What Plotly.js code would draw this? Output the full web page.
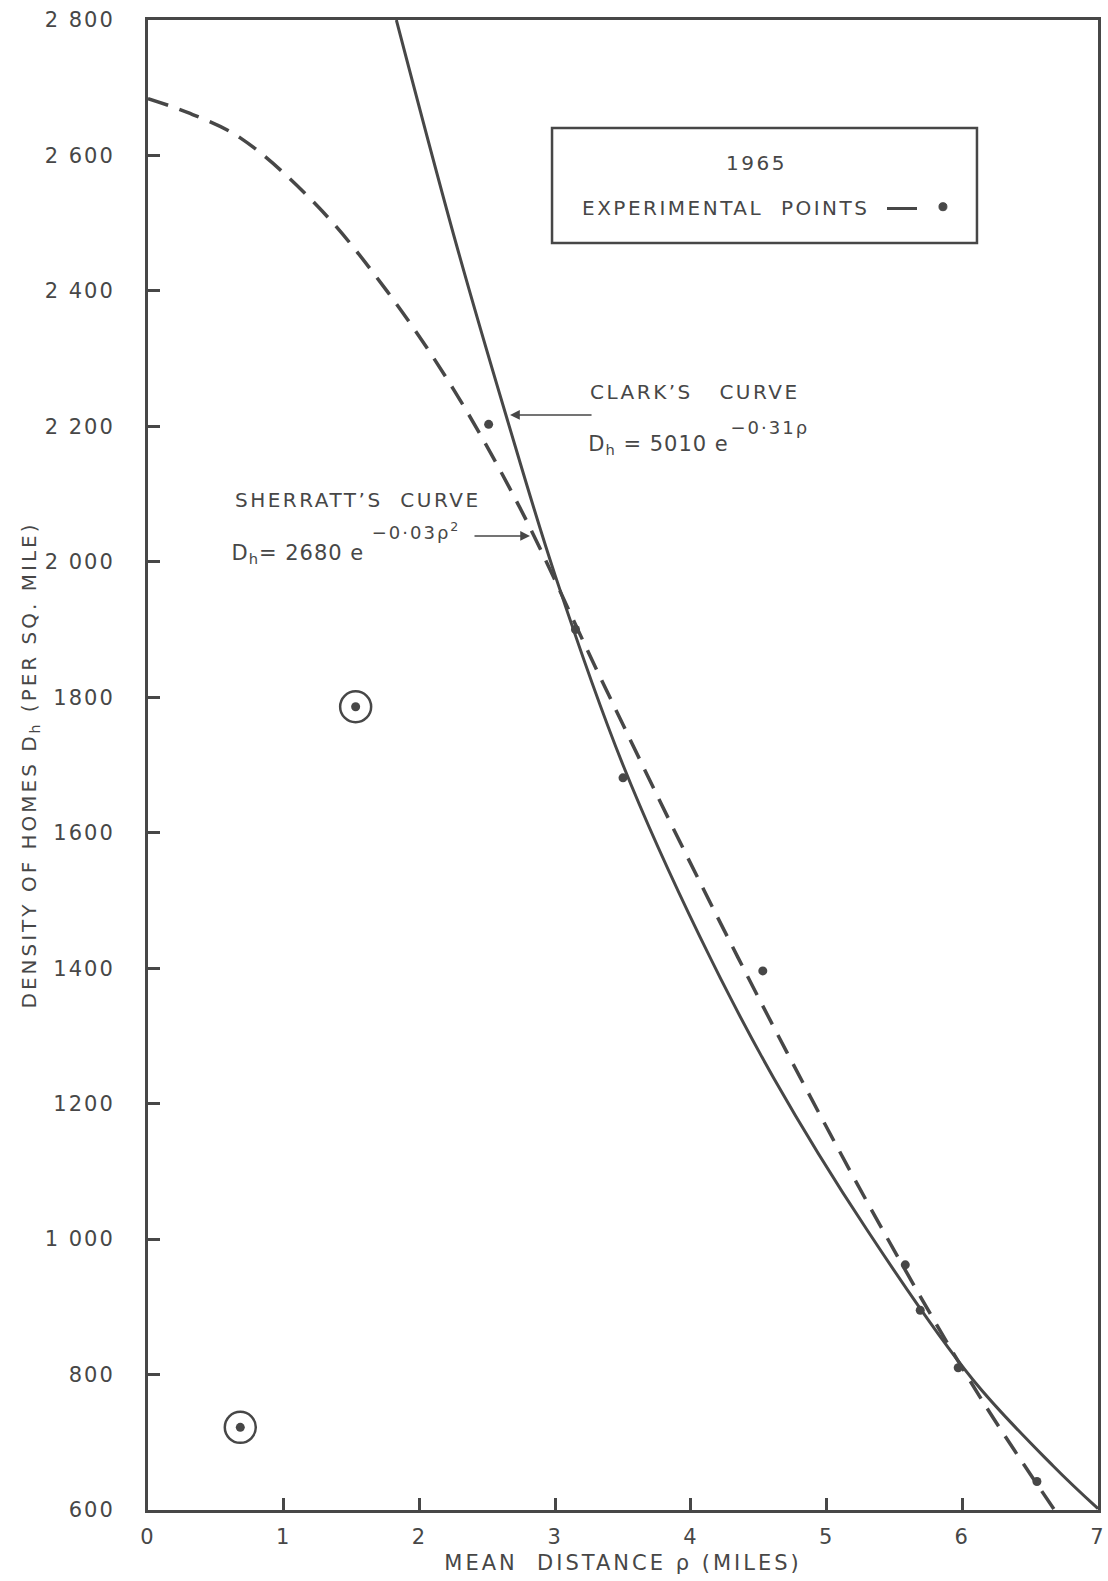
<!DOCTYPE html>
<html>
<head>
<meta charset="utf-8">
<script src="https://cdn.plot.ly/plotly-3.0.1.min.js"></script>
<style>
  html, body { margin: 0; padding: 0; background: #fff; }
  #chart { width: 1108px; height: 1581px; }
  /* wide, hand-lettered spacing */
  .xtick text, .ytick text { letter-spacing: 2px; }
  .xtitle, .ytitle { letter-spacing: 3px; }
  .annotation-text { letter-spacing: 2.5px; }
  /* the two formulas are set tighter */
  g.annotation[data-index="3"] text, g.annotation[data-index="7"] text { letter-spacing: 1px; }
  g.annotation[data-index="4"] text, g.annotation[data-index="8"] text { letter-spacing: 2px; }
</style>
</head>
<body>
<div id="chart"></div>
<script>
// Clark's curve, D_h against mean distance rho (miles)
const clarkRho = [1.83, 2.27, 2.64, 3.00, 3.50, 4.07, 4.61, 5.30, 6.08, 6.67, 7.00];
const clarkD   = [2800, 2470, 2215, 1980, 1700, 1445, 1238, 1013, 792, 665, 602];

// Sherratt's curve
const sherrattRho = [0, 0.31, 0.68, 1.25, 1.76, 2.25, 2.74, 3.31, 3.97, 4.71, 5.44, 6.13, 6.68];
const sherrattD   = [2684, 2662, 2626, 2525, 2400, 2255, 2080, 1839, 1566, 1275, 1004, 767, 600];

// 1965 experimental points
const pointRho = [2.51, 3.15, 3.50, 4.53, 5.58, 5.69, 5.97, 6.55];
const pointD   = [2203, 1900, 1681, 1396, 962, 895, 810, 642];

// ringed points
const ringRho = [0.68, 1.53];
const ringD   = [722, 1786];

// axis ticks
const xTicks = [0, 1, 2, 3, 4, 5, 6, 7];
const yTicks = [600, 800, 1000, 1200, 1400, 1600, 1800, 2000, 2200, 2400, 2600, 2800];
const yTickText = ['600', '800', '1 000', '1200', '1400', '1600', '1800', '2 000', '2 200', '2 400', '2 600', '2 800'];

const ink = '#474747';
const FONT = 'DejaVu Sans, Liberation Sans, sans-serif';

const traces = [
  {
    x: clarkRho, y: clarkD, type: 'scatter', mode: 'lines',
    line: { color: ink, width: 3, shape: 'spline', smoothing: 1 },
    hoverinfo: 'skip'
  },
  {
    x: sherrattRho, y: sherrattD, type: 'scatter', mode: 'lines',
    line: { color: ink, width: 3.5, dash: '21px,12px', shape: 'spline', smoothing: 1 },
    hoverinfo: 'skip'
  },
  {
    x: pointRho, y: pointD, type: 'scatter', mode: 'markers',
    marker: { color: ink, size: 9 },
    hoverinfo: 'skip'
  },
  {
    x: ringRho, y: ringD, type: 'scatter', mode: 'markers',
    marker: { color: 'rgba(0,0,0,0)', size: 31, line: { color: ink, width: 2.5 } },
    hoverinfo: 'skip'
  },
  {
    x: ringRho, y: ringD, type: 'scatter', mode: 'markers',
    marker: { color: ink, size: 9 },
    hoverinfo: 'skip'
  }
];

const axisCommon = {
  showline: true, linecolor: ink, linewidth: 3, mirror: true,
  showgrid: false, zeroline: false,
  ticks: 'inside', ticklen: 12, tickwidth: 3, tickcolor: ink,
  tickfont: { family: FONT, size: 21, color: ink }
};

function label(x, y, text, size, extra) {
  return Object.assign({
    xref: 'paper', yref: 'paper', x: x, y: y, xanchor: 'left', yanchor: 'middle',
    text: text, showarrow: false, font: { family: FONT, size: size, color: ink }
  }, extra || {});
}

function pointer(x, y, ax) {
  return {
    xref: 'paper', yref: 'paper', x: x, y: y, text: '', showarrow: true,
    ax: ax, ay: 0, arrowhead: 2, arrowsize: 1.3, arrowwidth: 1.5, arrowcolor: ink
  };
}

const layout = {
  width: 1108, height: 1581,
  margin: { l: 148, r: 10, t: 20, b: 71 },
  paper_bgcolor: '#fff', plot_bgcolor: '#fff',
  showlegend: false,
  xaxis: Object.assign({}, axisCommon, {
    range: [0, 7], tickmode: 'array', tickvals: xTicks,
    ticktext: xTicks.map(String), ticklabelstandoff: 6,
    title: { text: 'MEAN\u00a0\u00a0DISTANCE\u00a0ρ\u00a0(MILES)', standoff: 8,
             font: { family: FONT, size: 21, color: ink } }
  }),
  yaxis: Object.assign({}, axisCommon, {
    range: [600, 2800], tickmode: 'array', tickvals: yTicks,
    ticktext: yTickText, ticklabelstandoff: 26,
    title: { text: 'DENSITY\u00a0OF\u00a0HOMES\u00a0D<sub>h</sub>\u00a0(PER\u00a0SQ.\u00a0MILE)', standoff: 3,
             font: { family: FONT, size: 20, color: ink } }
  }),
  shapes: [
    // legend frame
    { type: 'rect', xref: 'paper', yref: 'paper', x0: 0.4253, x1: 0.8726, y0: 0.8503, y1: 0.9275,
      line: { color: ink, width: 2.5 }, fillcolor: 'rgba(0,0,0,0)' },
    // legend dash
    { type: 'line', xref: 'paper', yref: 'paper', x0: 0.7779, x1: 0.8095, y0: 0.8735, y1: 0.8735,
      line: { color: ink, width: 3 } },
    // legend dot
    { type: 'circle', xref: 'paper', yref: 'paper', x0: 0.8326, x1: 0.8410, y0: 0.8720, y1: 0.8774,
      line: { color: ink, width: 1 }, fillcolor: ink }
  ],
  annotations: [
    label(0.641, 0.904, '1965', 20, { xanchor: 'center' }),
    label(0.4547, 0.8738, 'EXPERIMENTAL\u00a0\u00a0POINTS', 20),

    label(0.4632, 0.7503, 'CLARK’S\u00a0\u00a0\u00a0CURVE', 20),
    label(0.4527, 0.7150, 'D<sub>h</sub> = 5010 e', 21),
    label(0.6095, 0.7262, '−0·31ρ', 18),
    pointer(0.3811, 0.7349, 83),

    label(0.0895, 0.6779, 'SHERRATT’S\u00a0\u00a0CURVE', 20),
    label(0.0779, 0.6415, 'D<sub>h</sub>= 2680 e', 21),
    label(0.2316, 0.6570, '−0·03ρ<sup>2</sup>', 18),
    pointer(0.4021, 0.6537, -57)
  ]
};

Plotly.newPlot('chart', traces, layout, { staticPlot: true, displayModeBar: false });
</script>
</body>
</html>
